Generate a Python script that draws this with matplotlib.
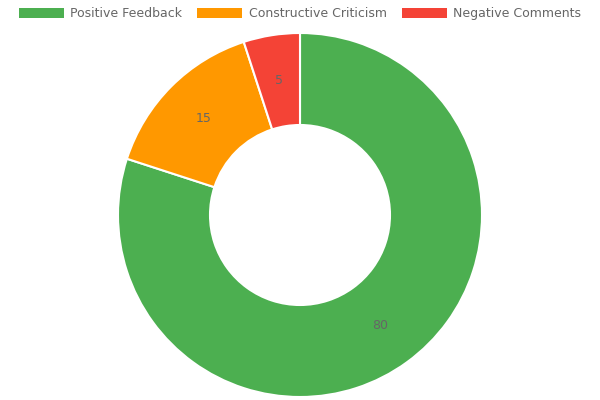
import matplotlib.pyplot as plt
from matplotlib.patches import Patch

categories = ['Positive Feedback', 'Constructive Criticism', 'Negative Comments']
values = [80, 15, 5]
colors = ['#4caf50', '#ff9800', '#f44336']

fig = plt.figure(figsize=(6, 4), dpi=100)
ax = fig.add_axes([0, 0, 1, 1])
ax.set_xlim(0, 600)
ax.set_ylim(0, 400)
ax.set_aspect('equal')
ax.axis('off')

wedges, texts = ax.pie(values, colors=colors, labels=[str(v) for v in values],
                       center=(300, 185), radius=182, startangle=90, counterclock=False,
                       labeldistance=0.75, frame=True,
                       wedgeprops=dict(width=92, edgecolor='white', linewidth=1.5),
                       textprops=dict(color='#666666', fontsize=9, ha='center', va='center'))
ax.set_xlim(0, 600)
ax.set_ylim(0, 400)
ax.axis('off')

handles = [Patch(facecolor=c, edgecolor='none') for c in colors]
fig.legend(handles, categories, loc='upper center', bbox_to_anchor=(0.5, 1.01), ncol=3,
           frameon=False, fontsize=9, labelcolor='#666666', handlelength=3.6,
           handleheight=0.9, columnspacing=1.2, handletextpad=0.5)

fig.savefig('out.png', dpi=100)
